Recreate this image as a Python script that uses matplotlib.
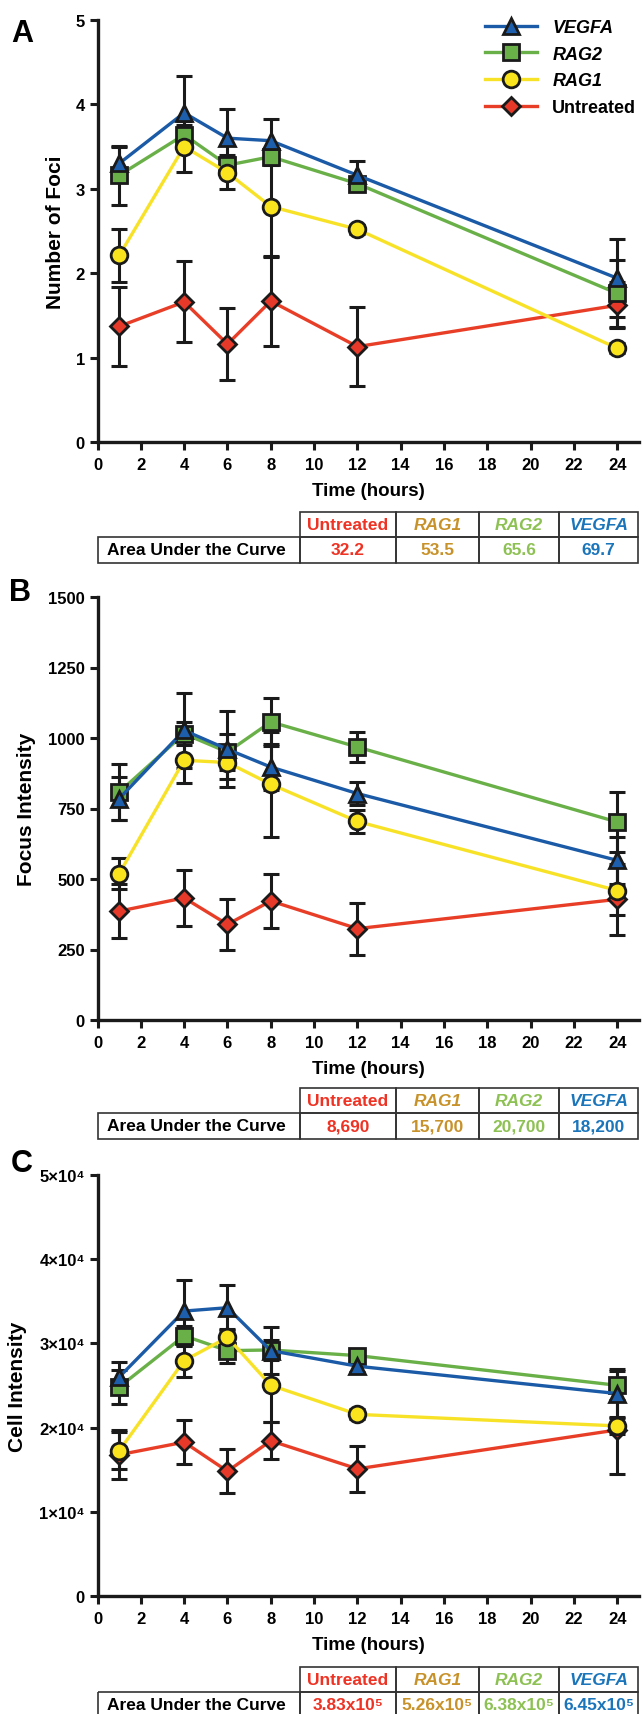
import matplotlib
matplotlib.use('Agg')
from matplotlib import pyplot as plt
from matplotlib.patches import Rectangle
from matplotlib.ticker import FuncFormatter, MultipleLocator

plt.rcParams['font.family'] = ['Liberation Sans', 'DejaVu Sans']
plt.rcParams['font.weight'] = 'bold'
plt.rcParams['axes.labelweight'] = 'bold'

# 时间点 (hours)
hours = [1, 4, 6, 8, 12, 24]

# A: Number of Foci
vegfa_foci = [3.30, 3.90, 3.60, 3.57, 3.16, 1.94]
vegfa_foci_err = [0.20, 0.44, 0.35, 0.26, 0.17, 0.46]
rag2_foci = [3.16, 3.64, 3.28, 3.38, 3.06, 1.76]
rag2_foci_err = [0.35, 0.12, 0.12, 0.10, 0.08, 0.40]
rag1_foci = [2.21, 3.50, 3.19, 2.79, 2.52, 1.11]
rag1_foci_err = [0.31, 0.30, 0.19, 0.60, 0.05, 0.06]
untr_foci = [1.37, 1.66, 1.16, 1.67, 1.13, 1.62]
untr_foci_err = [0.47, 0.48, 0.43, 0.53, 0.47, 0.27]

# B: Focus Intensity
vegfa_focint = [785, 1027, 960, 897, 803, 566]
vegfa_focint_err = [77, 133, 134, 80, 40, 83]
rag2_focint = [808, 1015, 950, 1057, 968, 702]
rag2_focint_err = [99, 40, 65, 86, 53, 106]
rag1_focint = [519, 921, 913, 836, 704, 459]
rag1_focint_err = [55, 80, 60, 187, 40, 85]
untr_focint = [386, 433, 339, 422, 324, 428]
untr_focint_err = [95, 100, 89, 96, 92, 125]

# C: Cell Intensity
vegfa_cell = [26000, 33840, 34240, 29140, 27290, 24040]
vegfa_cell_err = [1800, 3700, 2700, 2800, 700, 2900]
rag2_cell = [24820, 30900, 29140, 29220, 28550, 25020]
rag2_cell_err = [2000, 1200, 1500, 1200, 700, 1700]
rag1_cell = [17250, 27960, 30710, 25020, 21570, 20200]
rag1_cell_err = [2200, 1900, 1000, 4300, 600, 1000]
untr_cell = [16780, 18270, 14820, 18430, 15100, 19730]
untr_cell_err = [2900, 2600, 2600, 2200, 2700, 5300]

# 表格 Area Under the Curve
table_cols = ['Untreated', 'RAG1', 'RAG2', 'VEGFA']
auc_foci = ['32.2', '53.5', '65.6', '69.7']
auc_focint = ['8,690', '15,700', '20,700', '18,200']
auc_cell = ['3.83x10⁵', '5.26x10⁵', '6.38x10⁵', '6.45x10⁵']

W, H = 642, 1715
fig = plt.figure(figsize=(W / 100, H / 100), dpi=100)


def px_axes(x0, y0, x1, y1):
    return fig.add_axes([x0 / W, 1 - y1 / H, (x1 - x0) / W, (y1 - y0) / H])


# 样式: name, marker, size, fill, line
styles = [
    ('Untreated', 'D', 9, '#e6392a', '#e83e28'),
    ('RAG2', 's', 11, '#6ab048', '#6ab048'),
    ('RAG1', 'o', 12, '#fae41e', '#f8e228'),
    ('VEGFA', '^', 12, '#1d5fac', '#1a5aa6'),
]


def panel(ax, series, ylim, ystep, ylabel, ylab_x, fmt=None):
    for i, (name, mk, ms, fc, lc) in enumerate(styles):
        y, e = series[name]
        ax.errorbar(hours, y, yerr=e, fmt='none', ecolor='#1a1a1a',
                    elinewidth=2.2, capsize=5.5, capthick=2.2, zorder=2)
        ax.plot(hours, y, color=lc, lw=2.4, marker=mk, ms=ms, mfc=fc,
                mec='#1a1a1a', mew=2, zorder=3 + i, label=name)
    ax.set_xlim(0, 25)
    ax.set_ylim(*ylim)
    ax.set_xticks(range(0, 25, 2))
    ax.yaxis.set_major_locator(MultipleLocator(ystep))
    if fmt:
        ax.yaxis.set_major_formatter(FuncFormatter(fmt))
    for s in ['top', 'right']:
        ax.spines[s].set_visible(False)
    for s in ['left', 'bottom']:
        ax.spines[s].set_linewidth(2.4)
        ax.spines[s].set_color('#1a1a1a')
    ax.tick_params(width=2.2, length=6, labelsize=12, color='#1a1a1a')
    ax.tick_params(axis='x', pad=5)
    ax.tick_params(axis='y', pad=3)
    ax.set_xlabel('Time (hours)', fontsize=13.5, labelpad=7)
    ax.set_ylabel(ylabel, fontsize=15)
    ax.yaxis.label.set_va('center')
    ax.yaxis.set_label_coords((ylab_x - 97.5) / 541.5, 0.5)
    ax.patch.set_visible(False)


def sci(v, pos):
    if v == 0:
        return '0'
    return '%d×10⁴' % round(v / 1e4)


axA = px_axes(97.5, 21, 639, 443)
panel(axA, {'VEGFA': (vegfa_foci, vegfa_foci_err), 'RAG2': (rag2_foci, rag2_foci_err),
            'RAG1': (rag1_foci, rag1_foci_err), 'Untreated': (untr_foci, untr_foci_err)},
      (0, 5), 1, 'Number of Foci', 56)

axB = px_axes(97.5, 598, 639, 1021)
panel(axB, {'VEGFA': (vegfa_focint, vegfa_focint_err), 'RAG2': (rag2_focint, rag2_focint_err),
            'RAG1': (rag1_focint, rag1_focint_err), 'Untreated': (untr_focint, untr_focint_err)},
      (0, 1500), 250, 'Focus Intensity', 27)

axC = px_axes(97.5, 1176, 639, 1597)
panel(axC, {'VEGFA': (vegfa_cell, vegfa_cell_err), 'RAG2': (rag2_cell, rag2_cell_err),
            'RAG1': (rag1_cell, rag1_cell_err), 'Untreated': (untr_cell, untr_cell_err)},
      (0, 50000), 10000, 'Cell Intensity', 18, fmt=sci)

# 图例
h, l = axA.get_legend_handles_labels()
order = ['VEGFA', 'RAG2', 'RAG1', 'Untreated']
hh = [h[l.index(n)] for n in order]
leg = fig.legend(hh, order, loc='upper left', bbox_to_anchor=(485 / W, 1 - 20 / H),
                 frameon=False, fontsize=13, handlelength=2.9, handletextpad=0.83,
                 labelspacing=0.54, borderpad=0, borderaxespad=0, numpoints=1)
for t in leg.get_texts():
    if t.get_text() != 'Untreated':
        t.set_fontstyle('italic')

# 覆盖层: 字母和表格
ov = fig.add_axes([0, 0, 1, 1])
ov.set_xlim(0, W)
ov.set_ylim(H, 0)
ov.axis('off')

for letter, (x, y) in zip('ABC', [(22, 34), (20, 593), (22, 1164)]):
    ov.text(x, y, letter, fontsize=22, ha='center', va='center', fontweight='bold')

col_edges = [300, 395.5, 479, 559, 638]
col_colors = ['#ee3324', '#c8922a', '#8dc153', '#1b75bb']


def table(top, values):
    mid = top + 25
    bot = mid + 26
    lc = '#333333'
    ov.add_patch(Rectangle((97.5, mid), 300 - 97.5, bot - mid, fill=False, ec=lc, lw=1.2))
    ov.text(107, (mid + bot) / 2, 'Area Under the Curve', fontsize=12.5, ha='left', va='center')
    for j in range(4):
        x0, x1 = col_edges[j], col_edges[j + 1]
        ov.add_patch(Rectangle((x0, top), x1 - x0, mid - top, fill=False, ec=lc, lw=1.2))
        ov.add_patch(Rectangle((x0, mid), x1 - x0, bot - mid, fill=False, ec=lc, lw=1.2))
        st = 'normal' if table_cols[j] == 'Untreated' else 'italic'
        ov.text((x0 + x1) / 2, (top + mid) / 2, table_cols[j], fontsize=12.5, ha='center',
                va='center', color=col_colors[j], fontstyle=st)
        ov.text((x0 + x1) / 2, (mid + bot) / 2, values[j], fontsize=12.5, ha='center',
                va='center', color=col_colors[j])


table(513, auc_foci)
table(1089, auc_focint)
table(1668, auc_cell)

fig.savefig('out.png', dpi=100)
